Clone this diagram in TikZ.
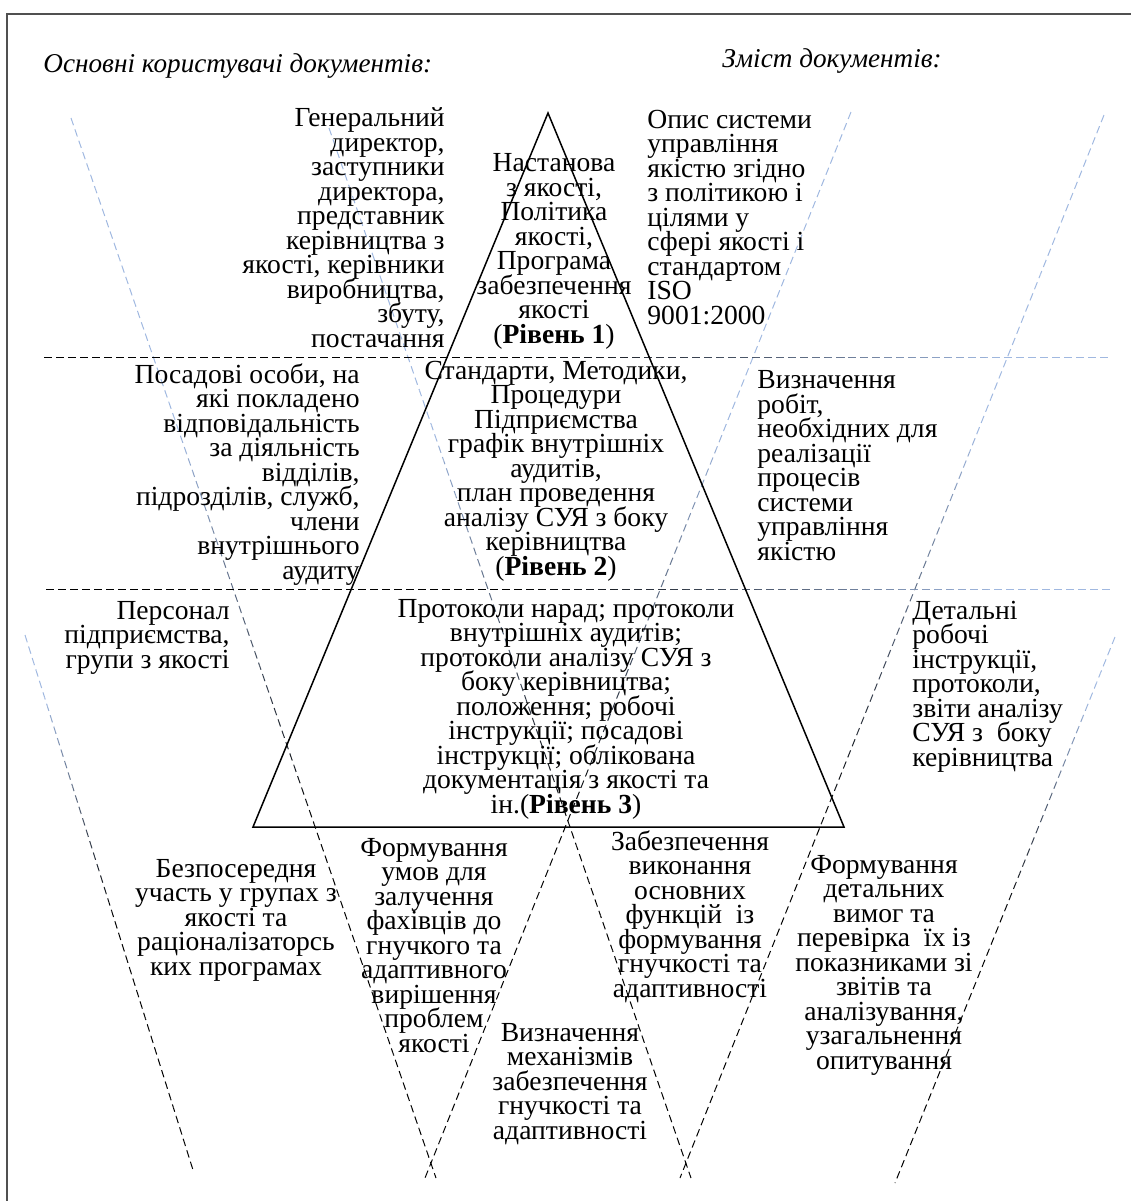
\documentclass[tikz,border=0pt]{standalone}
\usepackage{fontspec}
\setmainfont{Liberation Serif}
\usetikzlibrary{calc}
\definecolor{lblue}{RGB}{160,184,224}
\definecolor{framegray}{RGB}{80,80,80}
\def\pxu{0.5}
\newcommand\txtfont{\fontsize{13.8}{12.25}\selectfont\lineskiplimit=-20pt\relax}
\newcommand\italfont{\fontsize{13.6}{12.25}\selectfont\itshape}
\newcommand\gradline[5]{%
  \pgfmathsetmacro\gL{veclen(#3-#1,#4-#2)}%
  \foreach \k in {0,...,59}{%
    \pgfmathsetmacro\ta{\k/60}%
    \pgfmathsetmacro\tb{(\k+1)/60}%
    \pgfmathsetmacro\xa{#1+(#3-#1)*\ta}%
    \pgfmathsetmacro\ya{#2+(#4-#2)*\ta}%
    \pgfmathsetmacro\xb{#1+(#3-#1)*\tb}%
    \pgfmathsetmacro\yb{#2+(#4-#2)*\tb}%
    \pgfmathsetmacro\mx{(\xa+\xb)/2}%
    \pgfmathsetmacro\my{(\ya+\yb)/2}%
    \pgfmathsetmacro\pc{max(0,min(100,#5))}%
    \pgfmathsetmacro\ph{\gL*\ta*\pxu}%
    \draw[gline, dash phase=\ph pt, draw=black!\pc!lblue] (\xa,\ya) -- (\xb,\yb);
  }%
}
\tikzset{
  gline/.style={line width=0.5pt, dash pattern=on 3.8pt off 2.2pt},
  txt/.style={inner sep=0pt, font=\txtfont},
  ital/.style={inner sep=0pt, font=\italfont},
  pyr/.style={line width=0.75pt, line join=miter},
  frameline/.style={line width=0.8pt, draw=framegray}
}
\begin{document}
\begin{tikzpicture}[x=0.5pt,y=-0.5pt]
\useasboundingbox (0,0) rectangle (1131,1201);
\draw[frameline] (7,1201) -- (7,14) -- (1131,14);

% background dashed lines
\gradline{71}{118}{436}{1178}{(\my-430)/4}
\gradline{851}{112}{425}{1178}{(\my-430)/4}
\gradline{329}{128}{691}{1178}{(\my-430)/4}
\gradline{1104}{115}{680}{1178}{(\my-430)/4}
\gradline{25}{635}{193}{1170}{(\my-700)/2.2}
\gradline{1115}{637}{895}{1183}{(\my-700)/2.2}
\gradline{44}{357}{1110}{357}{(1000-\mx)/4.8}
\gradline{46}{589}{1112}{589}{(1000-\mx)/4.8}

% pyramid
\coordinate (apex) at (548,113);
\coordinate (bl) at (253,827);
\coordinate (br) at (844,827);
\draw[pyr] (apex) -- (bl) -- (br) -- cycle;

% headings
\node[ital, anchor=base west] (users) at (43,72) {Основні користувачі документів:};
\node[ital, anchor=base west] (content) at (722,67) {Зміст документів:};

% level 1 row (anchored at the baseline of the last line)
\node[txt, anchor=base east, align=right] (gen) at (445,347) {Генеральний\\директор,\\заступники\\директора,\\представник\\керівництва з\\якості, керівники\\виробництва,\\збуту,\\постачання};
\node[txt, anchor=base, align=center] (lvl1) at (554,343) {Настанова\\з якості,\\Політика\\якості,\\Програма\\забезпечення\\якості\\(\textbf{Рівень 1})};
\node[txt, anchor=base west, align=left] (opis) at (647,324) {Опис системи\\управління\\якістю згідно\\з політикою і\\цілями у\\сфері якості і\\стандартом\\ISO\\9001:2000};

% level 2 row
\node[txt, anchor=base east, align=right] (posad) at (360,579) {Посадові особи, на\\які покладено\\відповідальність\\за діяльність\\відділів,\\підрозділів, служб,\\члени\\внутрішнього\\аудиту};
\node[txt, anchor=base, align=center] (lvl2) at (556,575) {Стандарти, Методики,\\Процедури\\Підприємства\\графік внутрішніх\\аудитів,\\план проведення\\аналізу СУЯ з боку\\керівництва\\(\textbf{Рівень 2})};
\node[txt, anchor=base west, align=left] (vyzn) at (757,560) {Визначення\\робіт,\\необхідних для\\реалізації\\процесів\\системи\\управління\\якістю};

% level 3 row
\node[txt, anchor=base east, align=right] (pers) at (230,668) {Персонал\\підприємства,\\групи з якості};
\node[txt, anchor=base, align=center] (lvl3) at (566,813) {Протоколи нарад; протоколи\\внутрішніх аудитів;\\протоколи аналізу СУЯ з\\боку керівництва;\\положення; робочі\\інструкції; посадові\\інструкції; облікована\\документація з якості та\\ін.(\textbf{Рівень 3})};
\node[txt, anchor=base west, align=left] (detal) at (912,766) {Детальні\\робочі\\інструкції,\\протоколи,\\звіти аналізу\\СУЯ з\ \ боку\\керівництва};

% lower texts
\node[txt, anchor=base, align=center] (bezpos) at (236,975) {Безпосередня\\участь у групах з\\якості та\\раціоналізаторсь\\ких програмах};
\node[txt, anchor=base, align=center] (form1) at (434,1052) {Формування\\умов для\\залучення\\фахівців до\\гнучкого та\\адаптивного\\вирішення\\проблем\\якості};
\node[txt, anchor=base, align=center] (zabezp) at (690,997) {Забезпечення\\виконання\\основних\\функцій\ \ із\\формування\\гнучкості та\\адаптивності};
\node[txt, anchor=base, align=center] (vyzmech) at (570,1139) {Визначення\\механізмів\\забезпечення\\гнучкості та\\адаптивності};
\node[txt, anchor=base, align=center] (form2) at (884,1069) {Формування\\детальних\\вимог та\\перевірка\ \ їх із\\показниками зі\\звітів та\\аналізування,\\узагальнення\\опитування};
\end{tikzpicture}
\end{document}
